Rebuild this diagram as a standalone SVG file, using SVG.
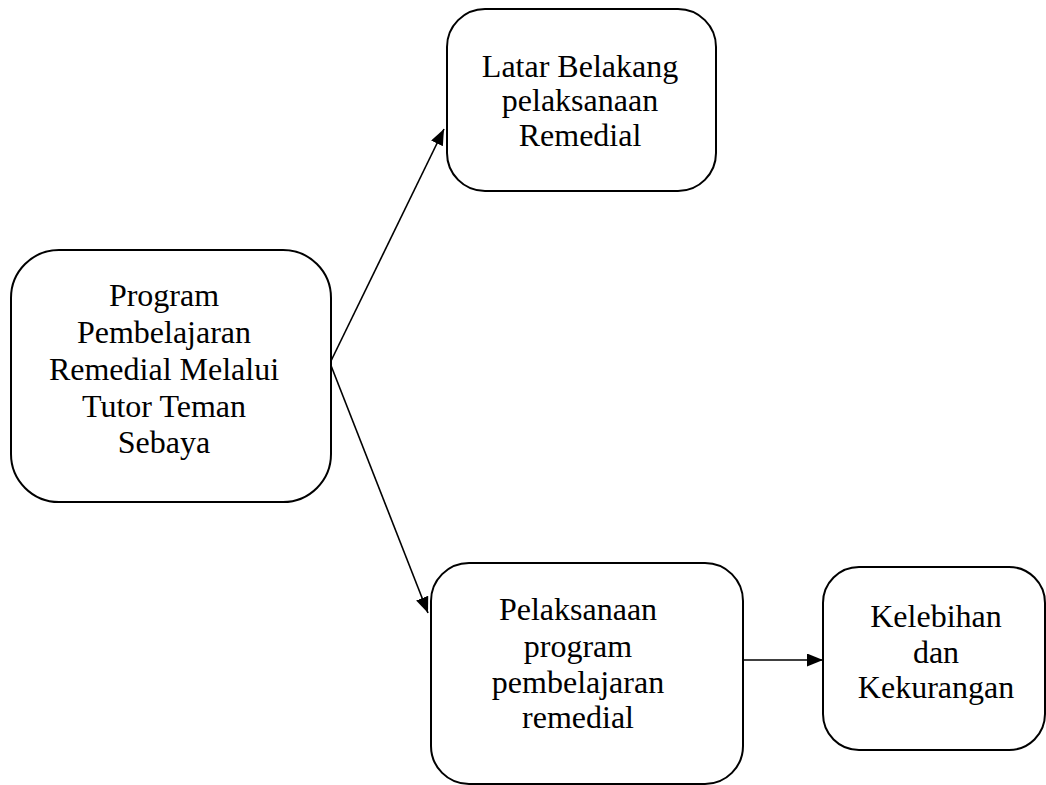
<svg xmlns="http://www.w3.org/2000/svg" width="1046" height="785" viewBox="0 0 1046 785">
<style>
.box{fill:#fff;stroke:#000;stroke-width:2}
.t{font-family:"Liberation Serif","Times New Roman",serif;font-size:32px;fill:#000;text-anchor:middle}
.c{stroke:#000;stroke-width:1.6;fill:none}
</style>
<defs>
<marker id="ah" markerUnits="userSpaceOnUse" markerWidth="17" markerHeight="13" refX="16" refY="6.5" orient="auto">
<path d="M0,0 L16,6.5 L0,13 z" fill="#000"/>
</marker>
</defs>
<rect width="1046" height="785" fill="#fff"/>
<g id="connectors">
<line class="c" x1="330" y1="363" x2="444" y2="129" marker-end="url(#ah)"/>
<line class="c" x1="330" y1="363" x2="428" y2="613" marker-end="url(#ah)"/>
<line class="c" x1="743" y1="660" x2="823" y2="660" marker-end="url(#ah)"/>
</g>
<g id="node-program">
<rect class="box" x="11" y="250" width="320" height="252" rx="48" ry="48"/>
<text class="t" x="164" y="306">Program</text>
<text class="t" x="164" y="343">Pembelajaran</text>
<text class="t" x="164" y="380">Remedial Melalui</text>
<text class="t" x="164" y="417">Tutor Teman</text>
<text class="t" x="164" y="453">Sebaya</text>
</g>
<g id="node-latar">
<rect class="box" x="447" y="9" width="269" height="182" rx="38" ry="38"/>
<text class="t" x="580" y="77">Latar Belakang</text>
<text class="t" x="580" y="111">pelaksanaan</text>
<text class="t" x="580" y="146">Remedial</text>
</g>
<g id="node-pelaksanaan">
<rect class="box" x="431" y="563" width="312" height="221" rx="38" ry="38"/>
<text class="t" x="578" y="620">Pelaksanaan</text>
<text class="t" x="578" y="657">program</text>
<text class="t" x="578" y="693">pembelajaran</text>
<text class="t" x="578" y="728">remedial</text>
</g>
<g id="node-kelebihan">
<rect class="box" x="823" y="567" width="222" height="183" rx="36" ry="36"/>
<text class="t" x="936" y="627">Kelebihan</text>
<text class="t" x="936" y="663">dan</text>
<text class="t" x="936" y="698">Kekurangan</text>
</g>
</svg>
